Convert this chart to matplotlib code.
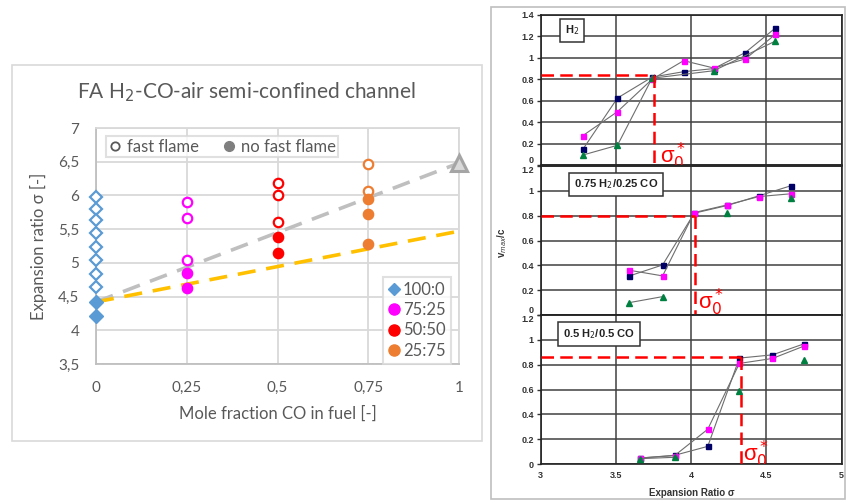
#!/usr/bin/env python

#---- import necessary packages ----#
import numpy as np
import matplotlib.pyplot as plt
from matplotlib import rcParams
from matplotlib.lines import Line2D
from matplotlib.patches import Rectangle

#---- figure parameters ----#
W, H = 846, 503
params = {'figure.figsize': [W / 100, H / 100],
          'savefig.dpi': 100,
          'font.family': ['Lato', 'DejaVu Sans'],
          'axes.unicode_minus': False}
rcParams.update(params)

#---- Data: left chart (FA H2-CO-air) ----#
ratio_labels = ['100:0', '75:25', '50:50', '25:75']
ratio_colors = ['#5B9BD5', '#FF00FF', '#FF0000', '#ED7D31']
co_frac = [0, 0.25, 0.5, 0.75]
fast_sigma = [[5.98, 5.80, 5.63, 5.44, 5.24, 5.04, 4.84, 4.64],
              [5.90, 5.66, 5.04],
              [6.19, 6.01, 5.61],
              [6.46, 6.06]]
slow_sigma = [[4.42, 4.21],
              [4.85, 4.62],
              [5.39, 5.14],
              [5.94, 5.72, 5.28]]
pure_co_x, pure_co_sigma = 1.0, 6.48
trend_x = [0, 1]
trend_gray = [4.42, 6.48]
trend_orange = [4.42, 5.47]
left_xticks = [0, 0.25, 0.5, 0.75, 1]
left_xlabels = ['0', '0,25', '0,5', '0,75', '1']
left_yticks = [3.5, 4, 4.5, 5, 5.5, 6, 6.5, 7]
left_ylabels = ['3,5', '4', '4,5', '5', '5,5', '6', '6,5', '7']

#---- Data: right chart (vmax/c vs expansion ratio) ----#
panel_titles = ['H$_2$', '0.75 H$_2$/0.25 CO', '0.5 H$_2$/0.5 CO']
nan = np.nan
sig_a = [3.28, 3.51, 3.74, 3.95, 4.15, 4.36, 4.56]
navy_a = [0.146, 0.625, 0.82, 0.871, 0.90, 1.05, 1.279]
mag_a = [0.274, 0.498, 0.80, 0.974, 0.905, 0.99, 1.22]
sig_a_green = [3.28, 3.51, 3.74, 4.15, 4.56]
green_a = [0.093, 0.184, 0.81, 0.88, 1.157]

sig_b = [3.59, 3.81, 4.02, 4.24, 4.45, 4.66]
navy_b = [0.315, 0.403, 0.82, 0.882, 0.96, 1.04]
mag_b = [0.36, 0.315, 0.825, 0.887, 0.954, 0.976]
green_b = [0.10, 0.148, nan, 0.82, nan, 0.94]

sig_c = [3.66, 3.89, 4.11, 4.32, 4.54, 4.75]
navy_c = [0.048, 0.07, 0.142, 0.853, 0.879, 0.968]
mag_c = [0.048, 0.068, 0.28, 0.81, 0.85, 0.95]
green_c = [0.043, 0.054, nan, 0.59, nan, 0.836]

sigma0 = [3.755, 4.025, 4.33]
v_sigma0 = [0.84, 0.80, 0.858]
ymax_panels = [1.4, 1.2, 1.2]
right_xticks = [3, 3.5, 4, 4.5, 5]
right_xlabels = ['3', '3.5', '4', '4.5', '5']

#---- helpers ----#
def fx(px):
    return px / W

def fy(py):
    return 1 - py / H

fig = plt.figure()

# outer frames of the two pictures
fig.patches.append(Rectangle((fx(12), fy(441)), 470 / W, 376 / H, transform=fig.transFigure,
                             fill=False, ec='#D9D9D9', lw=1.2))
fig.patches.append(Rectangle((fx(491), fy(499)), 354 / W, 492 / H, transform=fig.transFigure,
                             fill=False, ec='#BFBFBF', lw=1.2))

#---- Left chart ----#
txt = '#595959'
grid_c = '#D9D9D9'
ax = fig.add_axes([fx(96), fy(364), (459 - 96) / W, (364 - 128) / H])
ax.set_xlim(0, 1)
ax.set_ylim(3.5, 7)
ax.set_xticks(left_xticks, left_xlabels)
ax.set_yticks(left_yticks, left_ylabels)
ax.grid(True, color=grid_c, lw=1.3)
ax.set_axisbelow(True)
for s in ax.spines.values():
    s.set_color(grid_c)
    s.set_linewidth(1.3)
ax.spines['left'].set_color('#BFBFBF')
ax.spines['bottom'].set_color('#BFBFBF')
ax.tick_params(length=0, labelsize=11, colors=txt)
ax.tick_params(axis='x', pad=12)
ax.tick_params(axis='y', pad=12)

ax.plot(trend_x, trend_gray, color='#BFBFBF', lw=2.6, dashes=(5, 3), zorder=2)
ax.plot(trend_x, trend_orange, color='#FFC000', lw=2.6, dashes=(5, 3), zorder=2)
ax.plot(pure_co_x, pure_co_sigma, marker='^', ms=12, mfc='#D9D9D9', mec='#A5A5A5',
        mew=2.2, clip_on=False, zorder=4)

for i in range(len(co_frac)):
    mk = 'D' if i == 0 else 'o'
    ms = 6.5 if i == 0 else 6.8
    ax.plot([co_frac[i]] * len(fast_sigma[i]), fast_sigma[i], ls='none', marker=mk, ms=ms,
            mfc='white', mec=ratio_colors[i], mew=1.6, clip_on=False, zorder=5)
    ax.plot([co_frac[i]] * len(slow_sigma[i]), slow_sigma[i], ls='none', marker=mk, ms=ms + 0.6,
            mfc=ratio_colors[i], mec=ratio_colors[i], clip_on=False, zorder=5)

fig.text(fx(247), fy(92), 'FA H$_2$-CO-air semi-confined channel', ha='center', va='center',
         fontsize=15, color=txt)
ax.set_xlabel('Mole fraction CO in fuel [-]', fontsize=12, color=txt, labelpad=8)
ax.set_ylabel('Expansion ratio σ [-]', fontsize=12, color=txt, labelpad=8)

# legend: fast / no fast flame
h_fast = Line2D([], [], ls='none', marker='o', ms=6, mfc='white', mec='#595959', mew=1.3)
h_slow = Line2D([], [], ls='none', marker='o', ms=7, mfc='#7F7F7F', mec='#7F7F7F')
leg1 = ax.legend([h_fast, h_slow], ['fast flame', 'no fast flame'], ncol=2,
                 loc='upper left', bbox_to_anchor=(fx(106), fy(136)),
                 bbox_transform=fig.transFigure, borderaxespad=0, fontsize=12,
                 handlelength=0.8, handletextpad=0.3, columnspacing=1.4,
                 borderpad=0.15, fancybox=False, labelcolor=txt)
leg1.get_frame().set_edgecolor('#D9D9D9')
leg1.get_frame().set_linewidth(1.5)
ax.add_artist(leg1)

# legend: fuel ratios
hands = [Line2D([], [], ls='none', marker='D', ms=6, color=ratio_colors[0])]
hands += [Line2D([], [], ls='none', marker='o', ms=8, color=c) for c in ratio_colors[1:]]
leg2 = ax.legend(hands, ratio_labels, loc='upper left', bbox_to_anchor=(fx(383), fy(277)),
                 bbox_transform=fig.transFigure, borderaxespad=0, fontsize=12,
                 handlelength=0.7, handletextpad=0.2, labelspacing=0.25,
                 borderpad=0.3, fancybox=False, labelcolor=txt)
leg2.get_frame().set_edgecolor('#D9D9D9')
leg2.get_frame().set_linewidth(1.5)

#---- Right chart: three stacked panels ----#
dark = '#333333'
panel_px = [(15, 165), (166, 315), (315, 464)]
series = [(sig_a, navy_a, sig_a, mag_a, sig_a_green, green_a),
          (sig_b, navy_b, sig_b, mag_b, sig_b, green_b),
          (sig_c, navy_c, sig_c, mag_c, sig_c, green_c)]
label_pos = [(0.104, 0.897), (0.25, 0.876), (0.194, 0.874)]
sig_text_x = [3.79, 4.045, 4.345]
sig_text_y = [0.02, 0.05, 0.02]

for k in range(3):
    top, bot = panel_px[k]
    a = fig.add_axes([fx(540.7), fy(bot), (841.7 - 540.7) / W, (bot - top) / H])
    a.set_xlim(3, 5)
    a.set_ylim(0, ymax_panels[k])
    a.set_xticks(right_xticks, right_xlabels)
    yt = np.round(np.arange(0, ymax_panels[k] + 0.01, 0.2), 1)
    a.set_yticks(yt, [f'{v:g}' for v in yt])
    a.grid(True, color='#404040', lw=1.1)
    a.set_axisbelow(True)
    for s in a.spines.values():
        s.set_color('#222222')
        s.set_linewidth(1.2)
    a.tick_params(axis='y', length=3, width=1, pad=2, labelsize=6.5, colors=dark)
    a.tick_params(axis='x', length=0, pad=5, labelsize=6.5, colors=dark)
    for lab in a.get_yticklabels() + a.get_xticklabels():
        lab.set_fontfamily('Liberation Sans')
        lab.set_fontweight('bold')
    # stacked panels: keep the shared 0 / 1.2 labels apart
    if k > 0:
        a.get_yticklabels()[-1].set_va('top')
    if k < 2:
        a.get_yticklabels()[0].set_va('bottom')
        a.tick_params(axis='x', labelbottom=False)

    xn, yn, xm, ym, xg, yg = series[k]
    a.plot(xn, yn, color='#6E6E6E', lw=0.8, marker='s', ms=3.6, mfc='#000066', mec='#000066', zorder=3)
    a.plot(xm, ym, color='#6E6E6E', lw=0.8, marker='s', ms=3.6, mfc='#FF00FF', mec='#FF00FF', zorder=3)
    a.plot(xg, yg, color='#6E6E6E', lw=0.8, marker='^', ms=3.8, mfc='#008040', mec='#008040', zorder=3)

    # sigma_0* construction
    a.plot([3, sigma0[k]], [v_sigma0[k], v_sigma0[k]], color='#FF0000', lw=1.8, dashes=(5, 2.5), zorder=4)
    a.plot([sigma0[k], sigma0[k]], [v_sigma0[k], 0], color='#FF0000', lw=1.8, dashes=(5, 2.5), zorder=4)
    a.text(sig_text_x[k], sig_text_y[k], 'σ$_0^*$', color='#FF0000', fontsize=16, ha='left',
           va='baseline', family=['Liberation Sans', 'DejaVu Sans'], clip_on=True, zorder=5)

    a.text(label_pos[k][0], label_pos[k][1], panel_titles[k], transform=a.transAxes,
           ha='center', va='center', fontsize=8, fontweight='bold', color='#222222',
           family='Liberation Sans',
           bbox=dict(boxstyle='square,pad=0.45', fc='white', ec='#333333', lw=1.1), zorder=6)

fig.text(fx(502), fy(243), 'v$_{max}$/c', rotation=90, ha='center', va='center',
         fontsize=7, fontweight='bold', color=dark, family='Liberation Sans')
fig.text(fx(692), fy(493), 'Expansion Ratio σ', ha='center', va='center',
         fontsize=7, fontweight='bold', color=dark, family='Liberation Sans')

#---- Save ----#
plt.savefig('out.png', dpi=100, facecolor='white')
